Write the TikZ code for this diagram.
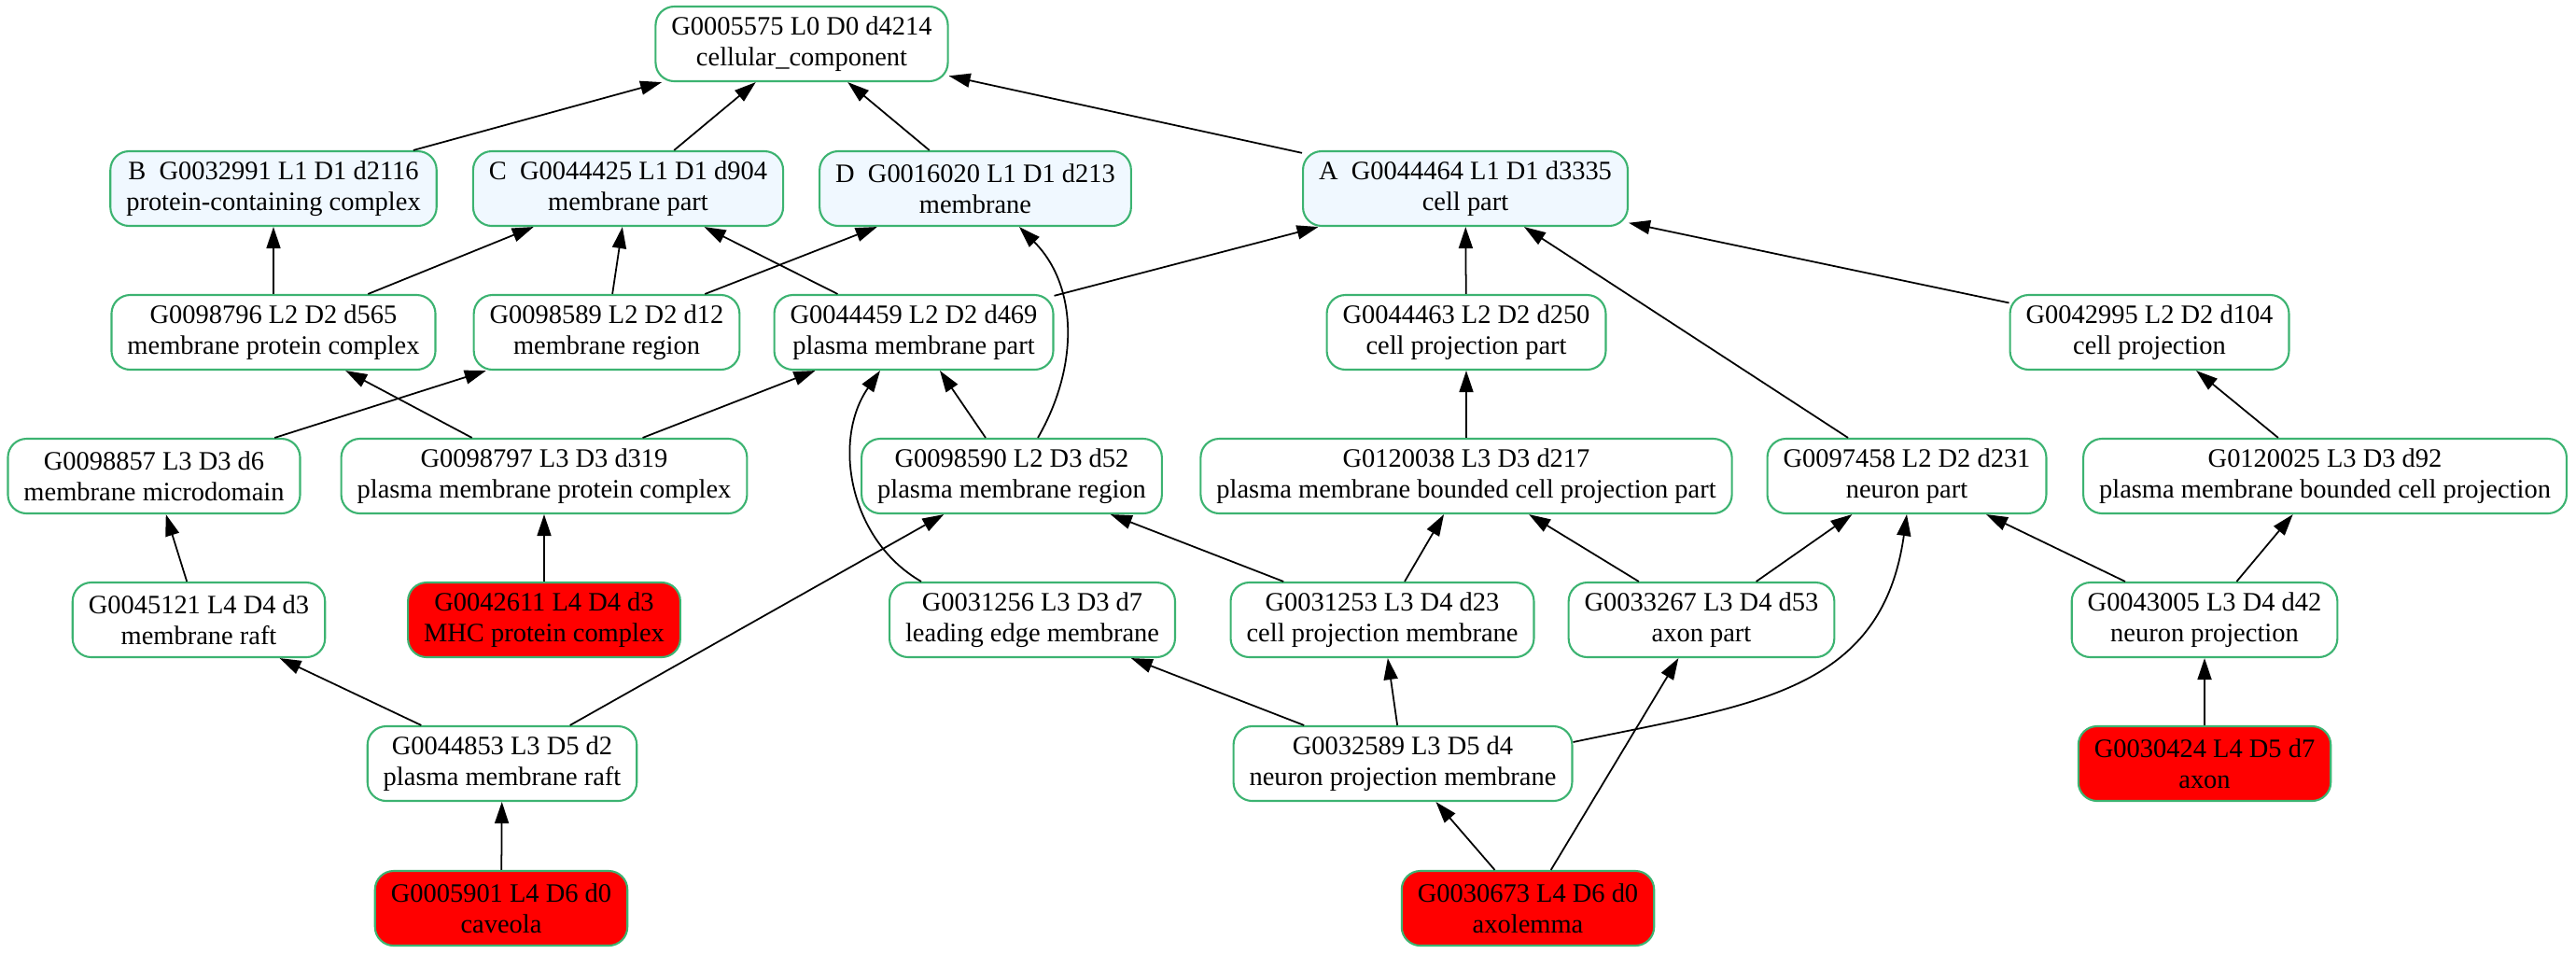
\documentclass[tikz,border=0pt]{standalone}
\usepackage{fontspec}
\setmainfont{Liberation Serif}
\usepackage{tikz}
\usetikzlibrary{arrows.meta,positioning}
\definecolor{goline}{HTML}{3CB371}
\definecolor{gotop}{HTML}{F0F8FF}
\definecolor{goleaf}{HTML}{FF0000}
\tikzset{term/.style={draw=goline,line width=0.6pt,rounded corners=0.2cm,fill=white,align=center,minimum height=0.8cm,inner xsep=0.17cm,inner ysep=0pt,font=\fontsize{8.1}{9.4}\selectfont},
	topterm/.style={term,fill=gotop},
	leafterm/.style={term,fill=goleaf},
	isa/.style={draw=black,line width=0.5pt,-{Triangle[length=2.3mm,width=1.5mm]}}}
\begin{document}
\begin{tikzpicture}
\useasboundingbox(0,0)rectangle(27.6,-10.21);
\node[term](root)at(8.59,-0.47){G0005575 L0 D0 d4214\\cellular\_component};
\node[topterm](B)at(2.93,-2.02){B~~G0032991 L1 D1 d2116\\protein-containing complex};
\node[topterm](C)at(6.73,-2.02){C~~G0044425 L1 D1 d904\\membrane part};
\node[topterm](D)at(10.45,-2.02){D~~G0016020 L1 D1 d213\\membrane};
\node[topterm](A)at(15.70,-2.02){A~~G0044464 L1 D1 d3335\\cell part};
\node[term](g98796)at(2.93,-3.56){G0098796 L2 D2 d565\\membrane protein complex};
\node[term](g98589)at(6.50,-3.56){G0098589 L2 D2 d12\\membrane region};
\node[term](g44459)at(9.79,-3.56){G0044459 L2 D2 d469\\plasma membrane part};
\node[term](g44463)at(15.71,-3.56){G0044463 L2 D2 d250\\cell projection part};
\node[term](g42995)at(23.03,-3.56){G0042995 L2 D2 d104\\cell projection};
\node[term](g98857)at(1.65,-5.10){G0098857 L3 D3 d6\\membrane microdomain};
\node[term](g98797)at(5.83,-5.10){G0098797 L3 D3 d319\\plasma membrane protein complex};
\node[term](g98590)at(10.84,-5.10){G0098590 L2 D3 d52\\plasma membrane region};
\node[term](g120038)at(15.71,-5.10){G0120038 L3 D3 d217\\plasma membrane bounded cell projection part};
\node[term](g97458)at(20.43,-5.10){G0097458 L2 D2 d231\\neuron part};
\node[term](g120025)at(24.91,-5.10){G0120025 L3 D3 d92\\plasma membrane bounded cell projection};
\node[term](g45121)at(2.13,-6.64){G0045121 L4 D4 d3\\membrane raft};
\node[leafterm](g42611)at(5.83,-6.64){G0042611 L4 D4 d3\\MHC protein complex};
\node[term](g31256)at(11.06,-6.64){G0031256 L3 D3 d7\\leading edge membrane};
\node[term](g31253)at(14.81,-6.64){G0031253 L3 D4 d23\\cell projection membrane};
\node[term](g33267)at(18.23,-6.64){G0033267 L3 D4 d53\\axon part};
\node[term](g43005)at(23.62,-6.64){G0043005 L3 D4 d42\\neuron projection};
\node[term](g44853)at(5.38,-8.18){G0044853 L3 D5 d2\\plasma membrane raft};
\node[term](g32589)at(15.03,-8.18){G0032589 L3 D5 d4\\neuron projection membrane};
\node[leafterm](g30424)at(23.62,-8.18){G0030424 L4 D5 d7\\axon};
\node[leafterm](g5901)at(5.37,-9.73){G0005901 L4 D6 d0\\caveola};
\node[leafterm](g30673)at(16.37,-9.73){G0030673 L4 D6 d0\\axolemma};
\draw[isa](B)--(root);
\draw[isa](C)--(root);
\draw[isa](D)--(root);
\draw[isa](A)--(root);
\draw[isa](g98796)--(B);
\draw[isa](g98796)--(C);
\draw[isa](g98589)--(C);
\draw[isa](g98589)--(D);
\draw[isa](g44459)--(C);
\draw[isa](g44459)--(A);
\draw[isa]([xshift=2.8mm]g98590.north)to[out=60,in=-45]([xshift=4.7mm]D.south);
\draw[isa](g98590)--(g44459);
\draw[isa](g44463)--(A);
\draw[isa](g42995)--(A);
\draw[isa](g98857)--(g98589);
\draw[isa](g98797)--(g98796);
\draw[isa](g98797)--(g44459);
\draw[isa]([xshift=-11.9mm]g31256.north)to[out=150,in=-125]([xshift=-3.6mm]g44459.south);
\draw[isa](g120038)--(g44463);
\draw[isa](g97458)--(A);
\draw[isa](g120025)--(g42995);
\draw[isa](g45121)--(g98857);
\draw[isa](g42611)--(g98797);
\draw[isa](g31253)--(g98590);
\draw[isa](g31253)--(g120038);
\draw[isa](g33267)--(g120038);
\draw[isa](g33267)--(g97458);
\draw[isa](g43005)--(g97458);
\draw[isa](g43005)--(g120025);
\draw[isa](g44853)--(g45121);
\draw[isa](g44853)--(g98590);
\draw[isa](g32589)--(g31256);
\draw[isa](g32589)--(g31253);
\draw[isa]([yshift=2.3mm]g32589.east)to[out=12,in=-98,looseness=1.15](g97458.south);
\draw[isa](g30424)--(g43005);
\draw[isa](g5901)--(g44853);
\draw[isa](g30673)--(g32589);
\draw[isa](g30673)--(g33267);
\end{tikzpicture}
\end{document}
